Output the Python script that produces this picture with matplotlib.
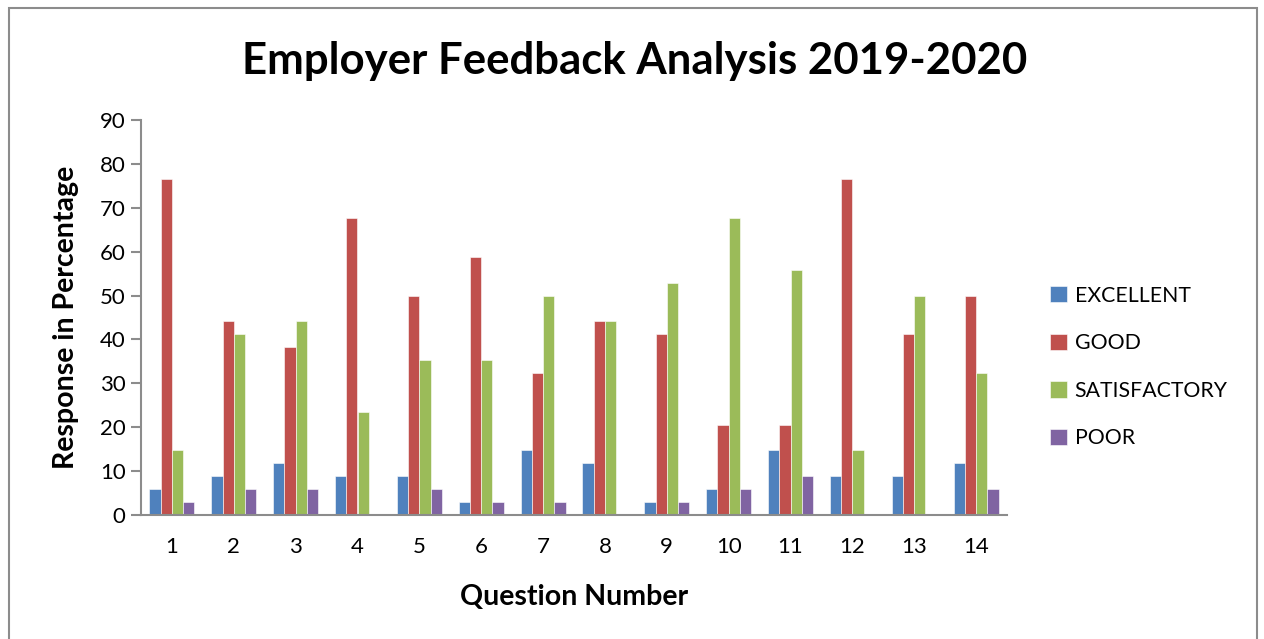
import numpy as np
import matplotlib.pyplot as plt
from matplotlib.patches import Rectangle

plt.rcParams['font.family'] = ['Lato', 'DejaVu Sans']

questions = ['1', '2', '3', '4', '5', '6', '7', '8', '9', '10', '11', '12', '13', '14']
excellent = [5.88, 8.82, 11.76, 8.82, 8.82, 2.94, 14.71, 11.76, 2.94, 5.88, 14.71, 8.82, 8.82, 11.76]
good = [76.47, 44.12, 38.24, 67.65, 50.0, 58.82, 32.35, 44.12, 41.18, 20.59, 20.59, 76.47, 41.18, 50.0]
satisfactory = [14.71, 41.18, 44.12, 23.53, 35.29, 35.29, 50.0, 44.12, 52.94, 67.65, 55.88, 14.71, 50.0, 32.35]
poor = [2.94, 5.88, 5.88, 0, 5.88, 2.94, 2.94, 0, 2.94, 5.88, 8.82, 0, 0, 5.88]

series = [('EXCELLENT', excellent, '#4F81BD'),
          ('GOOD', good, '#C0504D'),
          ('SATISFACTORY', satisfactory, '#9BBB59'),
          ('POOR', poor, '#8064A2')]

fig = plt.figure(figsize=(12.64, 6.39), dpi=100)
# chart border like the excel chart area
fig.patches.append(Rectangle((9 / 1264, -0.01), 1248 / 1264, 1 - 8 / 639 + 0.01,
                             transform=fig.transFigure, fill=False,
                             edgecolor='#8c8c8c', linewidth=1.5))

ax = fig.add_axes([141 / 1264, 1 - 515 / 639, 866 / 1264, 395 / 639])
x = np.arange(len(questions))
w = 0.182
for i, (name, vals, col) in enumerate(series):
    ax.bar(x + (i - 1.5) * w, vals, w, color=col, label=name,
           edgecolor='white', linewidth=0.4)

ax.set_xlim(-0.5, len(questions) - 0.5)
ax.set_ylim(0, 90)
ax.set_yticks(range(0, 91, 10))
ax.set_xticks(x)
ax.set_xticklabels(questions)
ax.tick_params(axis='x', length=0, pad=16, labelsize=16)
ax.tick_params(axis='y', length=7, width=1.5, color='#8c8c8c', pad=4, labelsize=16)
for s in ['top', 'right']:
    ax.spines[s].set_visible(False)
for s in ['left', 'bottom']:
    ax.spines[s].set_color('#8c8c8c')
    ax.spines[s].set_linewidth(1.5)

ax.set_xlabel('Question Number', fontsize=20.5, fontweight='bold', labelpad=19)
ax.set_ylabel('Response in Percentage', fontsize=20.5, fontweight='bold', labelpad=15)
fig.text(635 / 1264, 1 - 61 / 639, 'Employer Feedback Analysis 2019-2020',
         ha='center', va='center', fontsize=31.5, fontweight='bold')

fig.legend(loc='center left', bbox_to_anchor=(1031 / 1264, 1 - 367 / 639),
           frameon=False, fontsize=15.3, handlelength=0.8, handleheight=0.8,
           handletextpad=0.35, labelspacing=1.3)

fig.savefig('out.png', dpi=100)
